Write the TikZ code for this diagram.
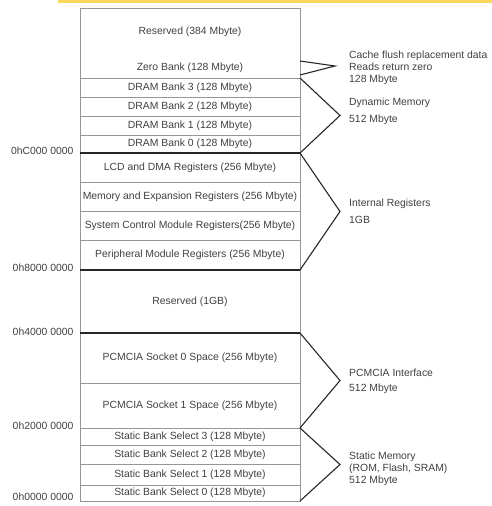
\documentclass[tikz,border=0pt]{standalone}
\usepackage{fontspec}
\setmainfont{Liberation Sans}
\usetikzlibrary{positioning, calc}
\definecolor{meucinza}{RGB}{150, 150, 150}
\definecolor{meuamarelo}{RGB}{250, 215, 90}

\begin{document}
\begin{tikzpicture}[
                x=1pt, y=-1pt,
                node distance=0pt,
                every node/.style={font=\fontsize{10.4}{12}\selectfont, text=black!75},
                area/.style={draw=meucinza, line width=0.8pt, minimum width=220pt,
                    inner sep=0pt, outer sep=0pt},
                faixa/.style={line width=2.8pt, color=black!85},
                chave/.style={line width=1.1pt, color=black!85},
                nota/.style={anchor=west, align=left, inner sep=0pt}
            ]
                \useasboundingbox (0,0) rectangle (492,506);
                \fill[meuamarelo] (58,0) rectangle (492,2.5);
                % coluna do mapa de memoria
                \node (topo)  [area, minimum height=70pt, anchor=north] at (190,8) {};
                \node (res)   at ($(topo.north)+(0,24)$) {Reserved (384 Mbyte)};
                \node (zero)  at ($(topo.north)+(0,60)$) {Zero Bank (128 Mbyte)};
                \node (dram3) [area, minimum height=19pt, below=of topo]  {DRAM Bank 3 (128 Mbyte)};
                \node (dram2) [area, minimum height=19pt, below=of dram3] {DRAM Bank 2 (128 Mbyte)};
                \node (dram1) [area, minimum height=19pt, below=of dram2] {DRAM Bank 1 (128 Mbyte)};
                \node (dram0) [area, minimum height=18pt, below=of dram1] {DRAM Bank 0 (128 Mbyte)};
                \node (lcd)   [area, minimum height=29pt, below=of dram0] {LCD and DMA Registers (256 Mbyte)};
                \node (mem)   [area, minimum height=29pt, below=of lcd]   {Memory and Expansion Registers (256 Mbyte)};
                \node (sys)   [area, minimum height=29pt, below=of mem]   {System Control Module Registers(256 Mbyte)};
                \node (per)   [area, minimum height=30pt, below=of sys]   {Peripheral Module Registers (256 Mbyte)};
                \node (res2)  [area, minimum height=63pt, below=of per]   {Reserved (1GB)};
                \node (pc0)   [area, minimum height=50pt, below=of res2]  {PCMCIA Socket 0 Space (256 Mbyte)};
                \node (pc1)   [area, minimum height=45pt, below=of pc0]   {PCMCIA Socket 1 Space (256 Mbyte)};
                \node (st3)   [area, minimum height=17pt, below=of pc1]   {Static Bank Select 3 (128 Mbyte)};
                \node (st2)   [area, minimum height=19pt, below=of st3]   {Static Bank Select 2 (128 Mbyte)};
                \node (st1)   [area, minimum height=21pt, below=of st2]   {Static Bank Select 1 (128 Mbyte)};
                \node (st0)   [area, minimum height=16pt, below=of st1]   {Static Bank Select 0 (128 Mbyte)};
                % divisoes grossas
                \draw[faixa] (dram0.south west) -- (dram0.south east);
                \draw[faixa] (per.south west)   -- (per.south east);
                \draw[faixa] (res2.south west)  -- (res2.south east);
                % enderecos
                \node (adrC) [left=3pt of dram0.south west, yshift=2pt] {0hC000 0000};
                \node (adr8) [left=3pt of per.south west, yshift=2pt]   {0h8000 0000};
                \node (adr4) [left=3pt of res2.south west, yshift=1pt]  {0h4000 0000};
                \node (adr2) [left=3pt of pc1.south west, yshift=2pt]   {0h2000 0000};
                \node (adr0) [left=3pt of st0.south west, yshift=4pt]   {0h0000 0000};
                % chaves
                \coordinate (zA) at ($(topo.south east)+(0,-17)$);
                \coordinate (zP) at ($(topo.south east)+(35,-12)$);
                \coordinate (zB) at ($(topo.south east)+(0,-3)$);
                \coordinate (pDyn) at ($(dram3.north east)!0.5!(dram0.south east)+(40,0)$);
                \coordinate (pInt) at ($(lcd.north east)!0.5!(per.south east)+(40,0)$);
                \coordinate (pPcm) at ($(pc0.north east)!0.5!(pc1.south east)+(40,0)$);
                \coordinate (pSta) at ($(st3.north east)!0.5!(st0.south east)+(40,0)$);
                \draw[chave] (zA) -- (zP) -- (zB);
                \draw[chave] (dram3.north east) -- (pDyn) -- (dram0.south east);
                \draw[chave] (lcd.north east)   -- (pInt) -- (per.south east);
                \draw[chave] (pc0.north east)   -- (pPcm) -- (pc1.south east);
                \draw[chave] (st3.north east)   -- (pSta) -- (st0.south east);
                % notas
                \node (nZero) [nota] at ($(zP)+(14,2)$) {Cache flush replacement data\\Reads return zero\\128 Mbyte};
                \node (nDyn)  [nota] at ($(pDyn)+(9,-4)$) {Dynamic Memory\\[5pt]512 Mbyte};
                \node (nInt)  [nota] at ($(pInt)+(9,0)$)  {Internal Registers\\[5pt]1GB};
                \node (nPcm)  [nota] at ($(pPcm)+(9,1)$)  {PCMCIA Interface\\[3pt]512 Mbyte};
                \node (nSta)  [nota] at ($(pSta)+(9,4)$)  {Static Memory\\(ROM, Flash, SRAM)\\512 Mbyte};
            \end{tikzpicture}
\end{document}
